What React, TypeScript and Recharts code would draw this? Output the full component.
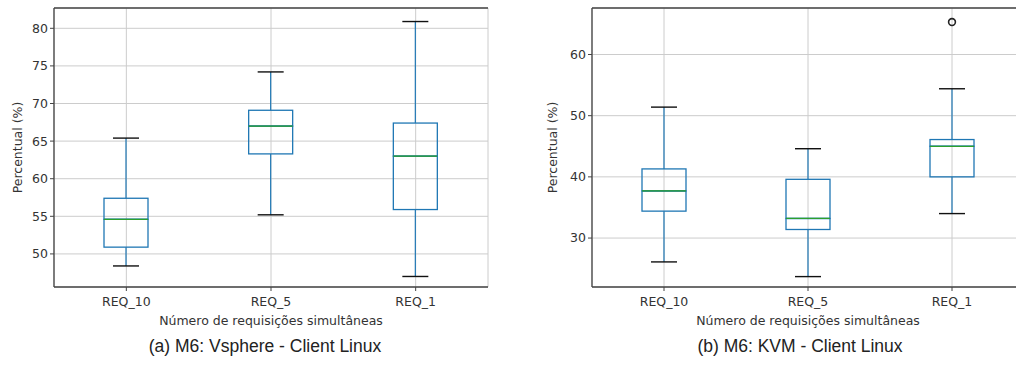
import React from "react"
import {
  ComposedChart,
  Bar,
  Scatter,
  XAxis,
  YAxis,
  CartesianGrid,
  ReferenceLine,
} from "recharts"

// categories on the x axis
const categories = ["REQ_10", "REQ_5", "REQ_1"]

// (a) Vsphere - box plot stats per category
const vsphereMin = [48.4, 55.2, 47.0]
const vsphereQ1 = [50.9, 63.3, 55.9]
const vsphereMedian = [54.6, 67.0, 63.0]
const vsphereQ3 = [57.4, 69.1, 67.4]
const vsphereMax = [65.4, 74.2, 80.9]
const vsphereTicks = [50, 55, 60, 65, 70, 75, 80]

// (b) KVM - box plot stats per category
const kvmMin = [26.1, 23.7, 34.0]
const kvmQ1 = [34.4, 31.4, 40.0]
const kvmMedian = [37.7, 33.2, 45.0]
const kvmQ3 = [41.3, 39.6, 46.1]
const kvmMax = [51.4, 44.6, 54.4]
const kvmOutliers: (number | null)[] = [null, null, 65.3]
const kvmTicks = [30, 40, 50, 60]

const BLUE = "#1f77b4"
const GREEN = "#2ca02c"
const FRAME = "#444"
const GRID = "#cccccc"
const TEXT = "#333"
const FONT = "'DejaVu Sans', sans-serif"

function buildRows(
  min: number[],
  q1: number[],
  med: number[],
  q3: number[],
  max: number[],
  outliers?: (number | null)[]
) {
  return categories.map((name, i) => ({
    name,
    base: min[i],
    lowWhisker: q1[i] - min[i],
    lowBox: med[i] - q1[i],
    highBox: q3[i] - med[i],
    highWhisker: max[i] - q3[i],
    outlier: outliers ? outliers[i] : null,
  }))
}

const CAP = 13

const LowWhisker = (p: any) => {
  const cx = p.x + p.width / 2
  const bottom = p.y + p.height
  return (
    <g>
      <line x1={cx} x2={cx} y1={p.y} y2={bottom} stroke={BLUE} strokeWidth={1.2} />
      <line x1={cx - CAP} x2={cx + CAP} y1={bottom} y2={bottom} stroke="#111" strokeWidth={1.4} />
    </g>
  )
}

const HighWhisker = (p: any) => {
  const cx = p.x + p.width / 2
  return (
    <g>
      <line x1={cx} x2={cx} y1={p.y} y2={p.y + p.height} stroke={BLUE} strokeWidth={1.2} />
      <line x1={cx - CAP} x2={cx + CAP} y1={p.y} y2={p.y} stroke="#111" strokeWidth={1.4} />
    </g>
  )
}

const LowBox = (p: any) => (
  <rect x={p.x} y={p.y} width={p.width} height={p.height} fill="none" stroke={BLUE} strokeWidth={1.3} />
)

const HighBox = (p: any) => (
  <g>
    <rect x={p.x} y={p.y} width={p.width} height={p.height} fill="none" stroke={BLUE} strokeWidth={1.3} />
    <line x1={p.x} x2={p.x + p.width} y1={p.y + p.height} y2={p.y + p.height} stroke={GREEN} strokeWidth={1.3} />
  </g>
)

const Outlier = (p: any) => {
  if (p.payload?.outlier == null || !Number.isFinite(p.cy)) return <g />
  return <circle cx={p.cx} cy={p.cy} r={3.4} fill="none" stroke="#222" strokeWidth={1.6} />
}

interface PanelProps {
  rows: ReturnType<typeof buildRows>
  domain: [number, number]
  ticks: number[]
  left: number
  width: number
  yAxisWidth: number
  yLabelX: number
  caption: string
  captionCenter: number
  hasOutliers?: boolean
}

function BoxPanel(props: PanelProps) {
  const { rows, domain, ticks, left, width, yAxisWidth, yLabelX, caption, captionCenter } = props
  const tickStyle = { fontSize: 12.5, fill: TEXT, fontFamily: FONT }

  return (
    <div style={{ position: "absolute", left, top: 0 }}>
      <ComposedChart
        width={width}
        height={365}
        data={rows}
        margin={{ top: 8, right: 12, left: 0, bottom: 0 }}
      >
        <CartesianGrid stroke={GRID} strokeWidth={1} />
        <XAxis
          dataKey="name"
          height={78}
          tickLine={{ stroke: FRAME }}
          axisLine={{ stroke: FRAME, strokeWidth: 1.3 }}
          tickSize={4}
          tickMargin={6}
          tick={tickStyle}
          label={{
            value: "Número de requisições simultâneas",
            position: "insideTop",
            offset: 29,
            style: { fontSize: 12.5, fill: TEXT, fontFamily: FONT },
          }}
        />
        <YAxis
          type="number"
          domain={domain}
          ticks={ticks}
          allowDataOverflow
          width={yAxisWidth}
          tickLine={{ stroke: FRAME }}
          axisLine={{ stroke: FRAME, strokeWidth: 1.3 }}
          tickSize={4}
          tickMargin={2}
          tick={tickStyle}
          label={{
            value: "Percentual (%)",
            content: ({ viewBox }: any) => {
              const cx = viewBox.x + yLabelX
              const cy = viewBox.y + viewBox.height / 2
              return (
                <text
                  x={cx}
                  y={cy}
                  transform={`rotate(-90 ${cx} ${cy})`}
                  textAnchor="middle"
                  dominantBaseline="central"
                  fontSize={12.5}
                  fill={TEXT}
                  fontFamily={FONT}
                >
                  Percentual (%)
                </text>
              )
            },
          }}
        />
        <YAxis
          yAxisId="frame"
          orientation="right"
          type="number"
          domain={domain}
          width={0}
          tick={false}
          tickLine={false}
          axisLine={{ stroke: FRAME, strokeWidth: 1.3 }}
        />
        <ReferenceLine y={domain[1]} stroke={FRAME} strokeWidth={1.3} ifOverflow="extendDomain" />
        <Bar dataKey="base" stackId="box" barSize={44} shape={() => <g />} isAnimationActive={false} />
        <Bar dataKey="lowWhisker" stackId="box" barSize={44} shape={LowWhisker} isAnimationActive={false} />
        <Bar dataKey="lowBox" stackId="box" barSize={44} shape={LowBox} isAnimationActive={false} />
        <Bar dataKey="highBox" stackId="box" barSize={44} shape={HighBox} isAnimationActive={false} />
        <Bar dataKey="highWhisker" stackId="box" barSize={44} shape={HighWhisker} isAnimationActive={false} />
        {props.hasOutliers && (
          <Scatter dataKey="outlier" shape={Outlier} isAnimationActive={false} />
        )}
      </ComposedChart>
      <div
        style={{
          position: "absolute",
          left: captionCenter - 200,
          width: 400,
          top: 336,
          textAlign: "center",
          fontFamily: "'Liberation Sans', Arial, sans-serif",
          fontSize: 17.5,
          color: "#222",
          whiteSpace: "nowrap",
        }}
      >
        {caption}
      </div>
    </div>
  )
}

export default function App() {
  const vsphereRows = buildRows(vsphereMin, vsphereQ1, vsphereMedian, vsphereQ3, vsphereMax)
  const kvmRows = buildRows(kvmMin, kvmQ1, kvmMedian, kvmQ3, kvmMax, kvmOutliers)

  return (
    <div
      style={{
        position: "absolute",
        left: 0,
        top: 0,
        width: 1016,
        height: 365,
        overflow: "hidden",
        background: "#fff",
      }}
    >
      <BoxPanel
        rows={vsphereRows}
        domain={[45.6, 82.7]}
        ticks={vsphereTicks}
        left={0}
        width={500}
        yAxisWidth={54}
        yLabelX={17}
        caption="(a) M6: Vsphere - Client Linux"
        captionCenter={265}
      />
      <BoxPanel
        rows={kvmRows}
        domain={[22.0, 67.6]}
        ticks={kvmTicks}
        left={508}
        width={528}
        yAxisWidth={84}
        yLabelX={44}
        caption="(b) M6: KVM - Client Linux"
        captionCenter={292}
        hasOutliers
      />
    </div>
  )
}
